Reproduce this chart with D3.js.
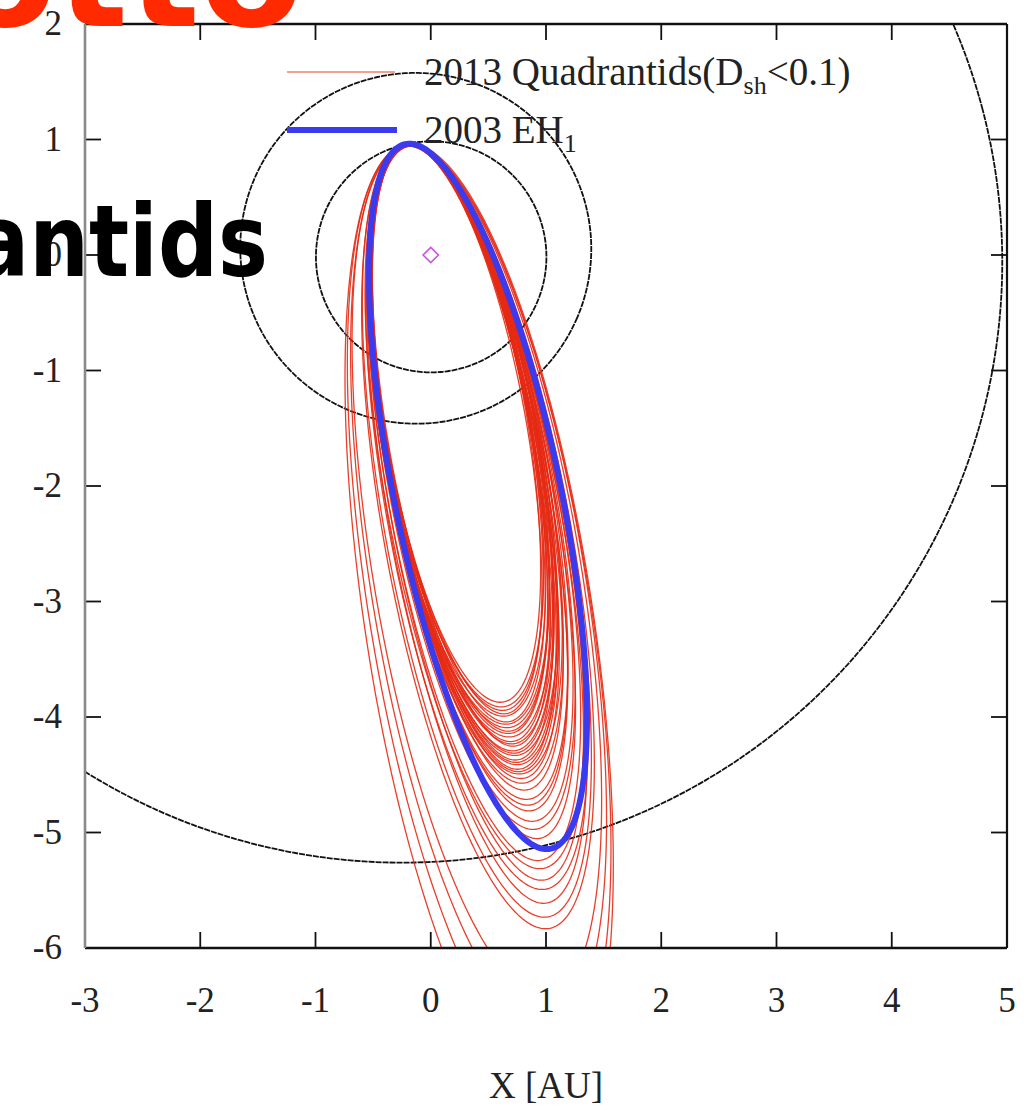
<!DOCTYPE html>
<html>
<head>
<meta charset="utf-8">
<script src="https://cdn.jsdelivr.net/npm/d3@7"></script>
<style>
  html, body { margin: 0; padding: 0; background: #fff; }
  svg { display: block; }
</style>
</head>
<body>
<svg id="chart" width="1026" height="1117"></svg>
<script>
// Axis ticks
const xTicks = [-3, -2, -1, 0, 1, 2, 3, 4, 5];
const yTicks = [-6, -5, -4, -3, -2, -1, 0, 1, 2];

// Planet orbits in the ecliptic: semi-major axis [AU], eccentricity, longitude of perihelion [deg]
const planetNames = ["Earth", "Mars", "Jupiter"];
const planetA     = [1.000, 1.524, 5.203];
const planetE     = [0.0167, 0.0934, 0.0484];
const planetVarpi = [102.9, 336.0, 14.7];

// Projected orbit of 2003 EH1: top point, bottom point (X, Y in AU), half-width [AU]
const eh1Orbit = [-0.22, 0.96, 1.04, -5.14, 0.72];

// Projected orbits of 2013 Quadrantids (D_sh < 0.1): top X, top Y, bottom X, bottom Y, half-width
const quadrantidOrbits = [
  [-0.20, 0.95, 0.63, -3.87, 0.62],
  [-0.19, 0.94, 0.64, -3.91, 0.64],
  [-0.21, 0.95, 0.65, -3.94, 0.63],
  [-0.22, 0.96, 0.66, -3.97, 0.61],
  [-0.21, 0.95, 0.66, -3.99, 0.65],
  [-0.20, 0.94, 0.68, -4.04, 0.62],
  [-0.18, 0.95, 0.68, -4.06, 0.66],
  [-0.22, 0.95, 0.69, -4.09, 0.66],
  [-0.21, 0.95, 0.70, -4.12, 0.63],
  [-0.23, 0.96, 0.70, -4.14, 0.64],
  [-0.20, 0.95, 0.71, -4.17, 0.67],
  [-0.22, 0.96, 0.72, -4.21, 0.64],
  [-0.19, 0.95, 0.73, -4.23, 0.66],
  [-0.21, 0.95, 0.74, -4.25, 0.62],
  [-0.20, 0.95, 0.74, -4.29, 0.66],
  [-0.22, 0.94, 0.75, -4.31, 0.65],
  [-0.21, 0.94, 0.76, -4.33, 0.68],
  [-0.22, 0.95, 0.76, -4.37, 0.63],
  [-0.20, 0.96, 0.77, -4.39, 0.66],
  [-0.21, 0.95, 0.78, -4.41, 0.67],
  [-0.20, 0.95, 0.78, -4.45, 0.64],
  [-0.23, 0.95, 0.79, -4.47, 0.66],
  [-0.21, 0.96, 0.80, -4.49, 0.69],
  [-0.22, 0.95, 0.81, -4.53, 0.65],
  [-0.20, 0.95, 0.82, -4.57, 0.68],
  [-0.21, 0.95, 0.84, -4.63, 0.66],
  [-0.20, 0.95, 0.86, -4.71, 0.69],
  [-0.22, 0.94, 0.87, -4.76, 0.68],
  [-0.21, 0.95, 0.88, -4.81, 0.67],
  [-0.22, 0.95, 0.91, -4.90, 0.70],
  [-0.21, 0.94, 0.92, -4.97, 0.71],
  [-0.20, 0.95, 0.95, -5.05, 0.68],
  [-0.21, 0.95, 0.96, -5.24, 0.73],
  [-0.22, 0.95, 0.98, -5.31, 0.75],
  [-0.21, 0.95, 0.99, -5.41, 0.73],
  [-0.20, 0.95, 1.00, -5.49, 0.77],
  [-0.21, 0.95, 1.01, -5.61, 0.75],
  [-0.22, 0.96, 1.02, -5.73, 0.79],
  [-0.21, 0.95, 1.03, -5.83, 0.81],
  [-0.22, 0.95, 1.02, -6.42, 0.90],
  [-0.21, 0.95, 1.04, -6.68, 0.93],
  [-0.22, 0.95, 1.06, -7.02, 0.96],
  [-0.21, 0.96, 1.05, -7.31, 0.99]
];

const legendLabels = ["2013 Quadrantids(D", "sh", "<0.1)", "2003 EH", "1"];

const W = 1026, H = 1117;
const plot = { left: 85, right: 1007, top: 24, bottom: 948 };
const x = d3.scaleLinear().domain([-3, 5]).range([plot.left, plot.right]);
const y = d3.scaleLinear().domain([-6, 2]).range([plot.bottom, plot.top]);

const svg = d3.select("#chart");
const serif = "'Liberation Serif', 'Times New Roman', serif";

svg.append("defs").append("clipPath").attr("id", "plotClip")
  .append("rect")
  .attr("x", plot.left).attr("y", plot.top)
  .attr("width", plot.right - plot.left).attr("height", plot.bottom - plot.top);

const line = d3.line().x(d => x(d[0])).y(d => y(d[1])).curve(d3.curveLinearClosed);
const phis = d3.range(0, 360, 1).map(d => d * Math.PI / 180);

// Ellipse through a top point and a bottom point, with given half-width
function projectedOrbit(o) {
  const [tx, ty, bx, by, w] = o;
  const cx = (tx + bx) / 2, cy = (ty + by) / 2;
  const dx = bx - tx, dy = by - ty;
  const a = Math.hypot(dx, dy) / 2;
  const ux = dx / (2 * a), uy = dy / (2 * a);
  const vx = -uy, vy = ux;
  return phis.map(p => [
    cx + a * Math.cos(p) * ux + w * Math.sin(p) * vx,
    cy + a * Math.cos(p) * uy + w * Math.sin(p) * vy
  ]);
}

// Keplerian ellipse with the Sun at one focus
function planetOrbit(i) {
  const a = planetA[i], e = planetE[i], w = planetVarpi[i] * Math.PI / 180;
  return phis.map(nu => {
    const r = a * (1 - e * e) / (1 + e * Math.cos(nu));
    return [r * Math.cos(nu + w), r * Math.sin(nu + w)];
  });
}

const g = svg.append("g").attr("clip-path", "url(#plotClip)");

// planets
g.selectAll("path.planet").data(planetNames).join("path")
  .attr("class", "planet")
  .attr("d", (d, i) => line(planetOrbit(i)))
  .attr("fill", "none").attr("stroke", "#111")
  .attr("stroke-width", 1.8)
  .attr("stroke-dasharray", "6,1");

// meteoroid orbits
g.selectAll("path.qua").data(quadrantidOrbits).join("path")
  .attr("class", "qua")
  .attr("d", d => line(projectedOrbit(d)))
  .attr("fill", "none").attr("stroke", "#e62a14")
  .attr("stroke-width", 1.3)
  .attr("stroke-opacity", 0.9);

// parent body
g.append("path")
  .attr("d", line(projectedOrbit(eh1Orbit)))
  .attr("fill", "none").attr("stroke", "#3a3aee")
  .attr("stroke-width", 6);

// Sun
svg.append("path")
  .attr("d", d3.symbol().type(d3.symbolDiamond2).size(150)())
  .attr("transform", `translate(${x(0)},${y(0)})`)
  .attr("fill", "none").attr("stroke", "#cc55e0").attr("stroke-width", 1.6);

// frame and ticks
const tickLen = 16;
const axes = svg.append("g").attr("stroke", "#111").attr("stroke-width", 1.8);
xTicks.slice(1, -1).forEach(t => {
  axes.append("line").attr("x1", x(t)).attr("x2", x(t)).attr("y1", plot.bottom).attr("y2", plot.bottom - tickLen);
  axes.append("line").attr("x1", x(t)).attr("x2", x(t)).attr("y1", plot.top).attr("y2", plot.top + tickLen);
});
yTicks.slice(1, -1).forEach(t => {
  axes.append("line").attr("x1", plot.left).attr("x2", plot.left + tickLen).attr("y1", y(t)).attr("y2", y(t));
  axes.append("line").attr("x1", plot.right).attr("x2", plot.right - tickLen).attr("y1", y(t)).attr("y2", y(t));
});
axes.append("line").attr("x1", plot.left).attr("x2", plot.right).attr("y1", plot.top).attr("y2", plot.top).attr("stroke-width", 2.4);
axes.append("line").attr("x1", plot.left).attr("x2", plot.right).attr("y1", plot.bottom).attr("y2", plot.bottom).attr("stroke-width", 2.4);
axes.append("line").attr("x1", plot.right).attr("x2", plot.right).attr("y1", plot.top).attr("y2", plot.bottom).attr("stroke-width", 2.2);
axes.append("line").attr("x1", plot.left).attr("x2", plot.left).attr("y1", plot.top).attr("y2", plot.bottom)
  .attr("stroke", "#8a8a8a").attr("stroke-width", 2.6);

// tick labels
svg.append("g").selectAll("text").data(xTicks).join("text")
  .attr("x", d => x(d)).attr("y", 1012)
  .attr("text-anchor", "middle")
  .attr("font-family", serif).attr("font-size", 35).attr("fill", "#222")
  .text(d => d);
svg.append("g").selectAll("text").data(yTicks).join("text")
  .attr("x", 62).attr("y", d => y(d) + 11)
  .attr("text-anchor", "end")
  .attr("font-family", serif).attr("font-size", 35).attr("fill", "#222")
  .text(d => d);

svg.append("text")
  .attr("x", 546).attr("y", 1098).attr("text-anchor", "middle")
  .attr("font-family", serif).attr("font-size", 37).attr("fill", "#222")
  .text("X [AU]");

// legend
const leg = svg.append("g").attr("font-family", serif).attr("font-size", 39).attr("fill", "#222");
leg.append("line").attr("x1", 287).attr("x2", 395).attr("y1", 72).attr("y2", 72)
  .attr("stroke", "#ec8070").attr("stroke-width", 1.5);
const t1 = leg.append("text").attr("x", 424).attr("y", 85);
t1.append("tspan").text(legendLabels[0]);
t1.append("tspan").attr("font-size", 26).attr("dy", 9).text(legendLabels[1]);
t1.append("tspan").attr("dy", -9).text(legendLabels[2]);
leg.append("line").attr("x1", 287).attr("x2", 397).attr("y1", 130).attr("y2", 130)
  .attr("stroke", "#3a3aee").attr("stroke-width", 6);
const t2 = leg.append("text").attr("x", 424).attr("y", 143);
t2.append("tspan").text(legendLabels[3]);
t2.append("tspan").attr("font-size", 26).attr("dy", 9).text(legendLabels[4]);

// slide title overlays
svg.append("text")
  .attr("x", 303).attr("y", 26).attr("text-anchor", "end")
  .attr("font-family", "'DejaVu Sans', Verdana, sans-serif").attr("font-weight", "bold")
  .attr("font-size", 150).attr("fill", "#ff2a00")
  .text("Motto");
svg.append("text")
  .attr("text-anchor", "end")
  .attr("transform", "translate(268,276) scale(0.84,1)")
  .attr("font-family", "'DejaVu Sans', Verdana, sans-serif").attr("font-weight", "bold")
  .attr("font-size", 100).attr("fill", "#000")
  .text("Quadrantids");
</script>
</body>
</html>
